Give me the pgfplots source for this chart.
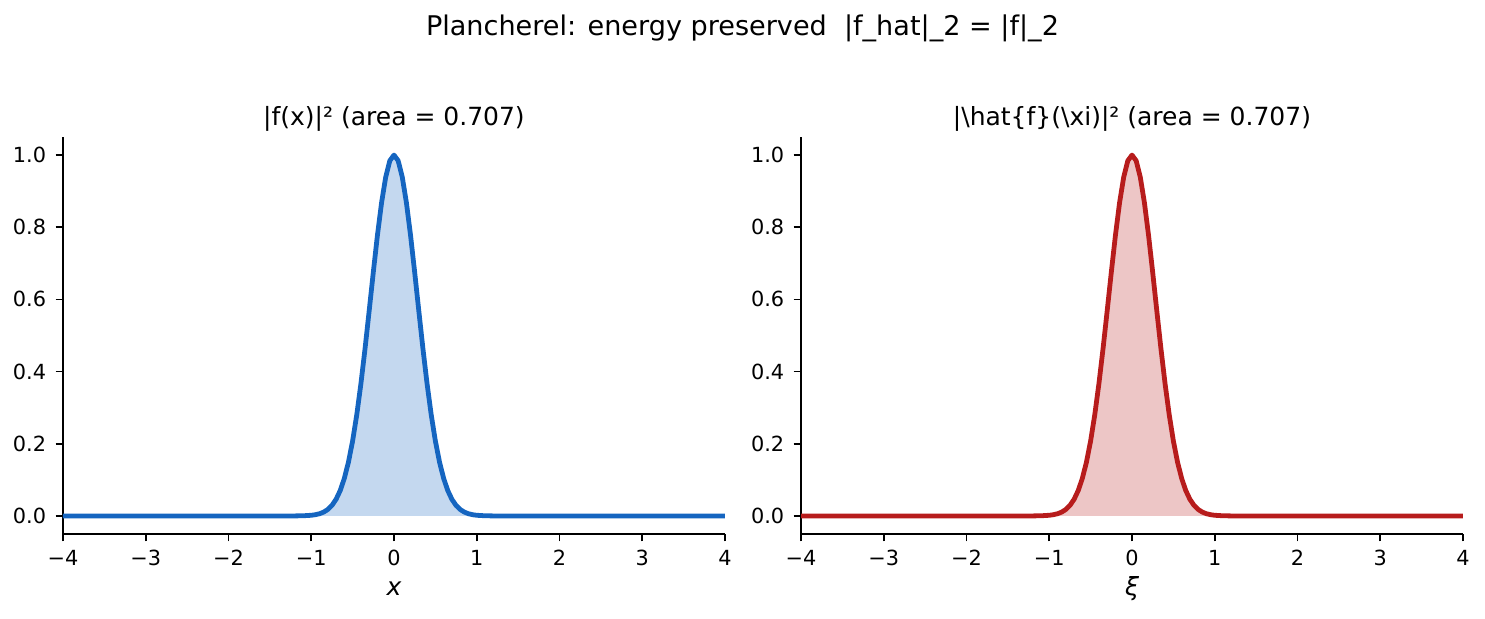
\documentclass[border=0pt]{standalone}
\usepackage{pgfplots}
\pgfplotsset{compat=1.18}
\usepackage{pgfplotstable}
\usepackage{fontspec}
\setmainfont{DejaVu Sans}
\definecolor{cblue}{HTML}{1565C0}
\definecolor{cred}{HTML}{B71C1C}

\pgfplotstableread{
x y
-4 0
-3 0
-2 0
-1.5 0
-1.3 0.00002
-1.2 0.00012
-1.1 0.00050
-1.0 0.00187
-0.95 0.00345
-0.9 0.00616
-0.85 0.01068
-0.8 0.01793
-0.75 0.02918
-0.7 0.04602
-0.65 0.07032
-0.6 0.10415
-0.55 0.14947
-0.5 0.20788
-0.45 0.28017
-0.4 0.36593
-0.35 0.46316
-0.3 0.56808
-0.25 0.67523
-0.2 0.77777
-0.15 0.86817
-0.1 0.93910
-0.05 0.98442
0 1
0.05 0.98442
0.1 0.93910
0.15 0.86817
0.2 0.77777
0.25 0.67523
0.3 0.56808
0.35 0.46316
0.4 0.36593
0.45 0.28017
0.5 0.20788
0.55 0.14947
0.6 0.10415
0.65 0.07032
0.7 0.04602
0.75 0.02918
0.8 0.01793
0.85 0.01068
0.9 0.00616
0.95 0.00345
1.0 0.00187
1.1 0.00050
1.2 0.00012
1.3 0.00002
1.5 0
2 0
3 0
4 0
}\ftable

\pgfplotstableread{
x y
-4 0
-3 0
-2 0
-1.5 0
-1.3 0.00002
-1.2 0.00012
-1.1 0.00050
-1.0 0.00187
-0.95 0.00345
-0.9 0.00616
-0.85 0.01068
-0.8 0.01793
-0.75 0.02918
-0.7 0.04602
-0.65 0.07032
-0.6 0.10415
-0.55 0.14947
-0.5 0.20788
-0.45 0.28017
-0.4 0.36593
-0.35 0.46316
-0.3 0.56808
-0.25 0.67523
-0.2 0.77777
-0.15 0.86817
-0.1 0.93910
-0.05 0.98442
0 1
0.05 0.98442
0.1 0.93910
0.15 0.86817
0.2 0.77777
0.25 0.67523
0.3 0.56808
0.35 0.46316
0.4 0.36593
0.45 0.28017
0.5 0.20788
0.55 0.14947
0.6 0.10415
0.65 0.07032
0.7 0.04602
0.75 0.02918
0.8 0.01793
0.85 0.01068
0.9 0.00616
0.95 0.00345
1.0 0.00187
1.1 0.00050
1.2 0.00012
1.3 0.00002
1.5 0
2 0
3 0
4 0
}\fhattable

\pgfplotsset{
  panel/.style={
    scale only axis,
    width=317.76pt, height=190.56pt,
    xmin=-4, xmax=4, ymin=-0.05, ymax=1.05,
    axis x line*=bottom, axis y line*=left,
    axis line style={-, line width=0.8pt},
    xtick={-4,-3,-2,-1,0,1,2,3,4},
    xticklabels={−4,−3,−2,−1,0,1,2,3,4},
    ytick={0,0.2,0.4,0.6,0.8,1.0},
    yticklabels={0.0,0.2,0.4,0.6,0.8,1.0},
    tick align=outside,
    major tick length=3.5pt,
    every tick/.style={black, line width=0.8pt},
    tick label style={font=\fontsize{10}{12}\selectfont, inner sep=0pt},
    xticklabel style={anchor=base, yshift=-11.4pt},
    yticklabel style={anchor=east, xshift=-4.4pt},
    title style={at={(axis description cs:0.5,1)}, anchor=base, yshift=-0.7pt, font=\fontsize{12}{14}\selectfont},
    xlabel style={at={(axis description cs:0.5,0)}, anchor=base, yshift=-29.5pt, font=\fontsize{12}{14}\selectfont},
    clip=false,
  }
}

\begin{document}
\begin{tikzpicture}
\path[use as bounding box] (0,0) rectangle (712.8pt,297.12pt);
\node[anchor=base, font=\fontsize{13}{15}\selectfont] at (356.4pt,280.3pt) {Plancherel: energy preserved\ \ |f\_hat|\_2 = |f|\_2};

\begin{axis}[panel, at={(30.24pt,40.8pt)}, anchor=south west,
  title={|f(x)|² (area = 0.707)}, xlabel={\itshape x}]
\addplot[draw=none, fill=cblue, fill opacity=0.25] table[x=x,y=y] {\ftable} \closedcycle;
\addplot[cblue, line width=2.3pt, line join=round] table[x=x,y=y] {\ftable};
\end{axis}

\begin{axis}[panel, at={(384.48pt,40.8pt)}, anchor=south west,
  title={|\textbackslash hat\{f\}(\textbackslash xi)|² (area = 0.707)}, xlabel={\itshape ξ}]
\addplot[draw=none, fill=cred, fill opacity=0.25] table[x=x,y=y] {\fhattable} \closedcycle;
\addplot[cred, line width=2.3pt, line join=round] table[x=x,y=y] {\fhattable};
\end{axis}
\end{tikzpicture}
\end{document}
